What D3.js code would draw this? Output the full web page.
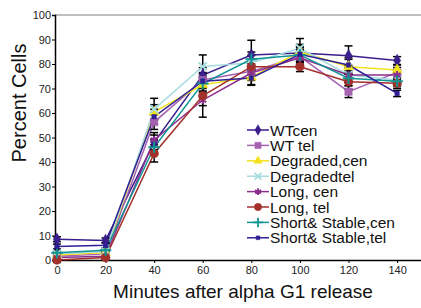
<!DOCTYPE html>
<html>
<head>
<meta charset="utf-8">
<script src="https://cdn.jsdelivr.net/npm/d3@7"></script>
<style>
  body { margin: 0; background: #fff; }
  text { font-family: "Liberation Sans", Arial, sans-serif; }
</style>
</head>
<body>
<script>
// minutes after release
const minutes = [0, 20, 40, 60, 80, 100, 120, 140];
const xTicks = [0, 20, 40, 60, 80, 100, 120, 140];
const yTicks = [0, 10, 20, 30, 40, 50, 60, 70, 80, 90, 100];

const seriesNames = ["WTcen", "WT tel", "Degraded,cen", "Degradedtel", "Long, cen", "Long, tel", "Short& Stable,cen", "Short& Stable,tel"];

const wtCen     = [8.5, 8, 48, 75.5, 83.7, 84.5, 83.4, 81.4];
const wtTel     = [1.5, 2.5, 56.3, 73.5, 77, 83, 68.7, 76.6];
const degCen    = [2, 3, 60.4, 71.5, 74.6, 85, 78.9, 77.6];
const degTel    = [2.5, 3.5, 61.6, 79, 80.5, 86.4, 75.5, 73.5];
const longCen   = [1, 1.5, 49, 65.3, 76.3, 82.5, 75.5, 75.5];
const longTel   = [0, 1, 43.5, 67, 78.9, 78.9, 72.8, 72.1];
const shortCen  = [3, 4, 46, 72, 81.9, 83.7, 74.2, 73];
const shortTel  = [5.5, 6, 58.5, 73, 74.3, 84, 79.6, 68];

// error bar half-widths
const wtCenErr    = [1, 1, 3, 3, 6, 3, 4, 1.6];
const wtTelErr    = [1, 1, 3, 3, 3, 3, 2.4, 2];
const degCenErr   = [1, 1, 3, 3, 3, 3, 3, 2];
const degTelErr   = [1, 1, 4.4, 4.7, 3, 4, 3, 2];
const longCenErr  = [1, 1, 3, 7, 3, 3, 3, 2];
const longTelErr  = [1, 1, 3.5, 4, 3, 2, 3, 2];
const shortCenErr = [1, 1, 3, 3, 3, 3, 3, 2];
const shortTelErr = [1, 1, 3, 3, 3, 3, 3, 1.3];

const colors = ["#3a1e8c", "#a462b0", "#f2e21e", "#a6dbe0", "#8b2f8f", "#a3302a", "#0f9494", "#2e1f96"];
const symbols = [d3.symbolDiamond, d3.symbolSquare, d3.symbolTriangle, d3.symbolX, d3.symbolAsterisk, d3.symbolCircle, d3.symbolPlus, d3.symbolSquare];
const symbolSizes = [45, 55, 45, 45, 45, 60, 45, 20];

const values = [wtCen, wtTel, degCen, degTel, longCen, longTel, shortCen, shortTel];
const errors = [wtCenErr, wtTelErr, degCenErr, degTelErr, longCenErr, longTelErr, shortCenErr, shortTelErr];

const series = seriesNames.map((name, i) => ({
  name: name,
  color: colors[i],
  symbol: symbols[i],
  size: symbolSizes[i],
  points: minutes.map((m, j) => ({ m: m, v: values[i][j], e: errors[i][j] }))
}));

const width = 421, height = 308;

const svg = d3.select("body").append("svg")
  .attr("width", width)
  .attr("height", height);

const x = d3.scaleLinear().domain([-0.8, 150]).range([55, 421.4]);
const y = d3.scaleLinear().domain([0, 100]).range([260, 15]);

// top frame line
svg.append("line")
  .attr("x1", 55).attr("x2", width)
  .attr("y1", y(100)).attr("y2", y(100))
  .attr("stroke", "#aaa")
  .attr("stroke-width", 1.5);

// axes
const yAxis = svg.append("g")
  .attr("transform", "translate(55,0)")
  .call(d3.axisLeft(y).tickValues(yTicks).tickSize(3).tickPadding(1));

const xAxis = svg.append("g")
  .attr("transform", "translate(0,260)")
  .call(d3.axisBottom(x).tickValues(xTicks).tickSize(3).tickPadding(3));

[yAxis, xAxis].forEach(a => {
  a.select(".domain").attr("stroke", "#000").attr("stroke-width", 1.5);
  a.selectAll(".tick line").attr("stroke", "#000");
  a.selectAll(".tick text")
    .attr("fill", "#222")
    .style("font-size", "11px")
    .style("font-family", "'Liberation Sans', Arial, sans-serif");
});

// axis titles
svg.append("text")
  .attr("x", 243)
  .attr("y", 298)
  .attr("text-anchor", "middle")
  .attr("font-size", "19px")
  .attr("fill", "#111")
  .text("Minutes after alpha G1 release");

svg.append("text")
  .attr("transform", "translate(26,103) rotate(-90)")
  .attr("text-anchor", "middle")
  .attr("font-size", "20px")
  .attr("fill", "#111")
  .text("Percent Cells");

const line = d3.line().x(d => x(d.m)).y(d => y(d.v));

// lines
series.forEach(s => {
  svg.append("path")
    .datum(s.points)
    .attr("fill", "none")
    .attr("stroke", s.color)
    .attr("stroke-width", 1.5)
    .attr("d", line);
});

// error bars
series.forEach(s => {
  const g = svg.append("g").attr("stroke", "#000").attr("stroke-width", 1.5);
  g.selectAll("line.bar").data(s.points).join("line")
    .attr("x1", d => x(d.m)).attr("x2", d => x(d.m))
    .attr("y1", d => y(d.v - d.e)).attr("y2", d => y(d.v + d.e));
  g.selectAll("line.top").data(s.points).join("line")
    .attr("x1", d => x(d.m) - 4).attr("x2", d => x(d.m) + 4)
    .attr("y1", d => y(d.v + d.e)).attr("y2", d => y(d.v + d.e));
  g.selectAll("line.bot").data(s.points).join("line")
    .attr("x1", d => x(d.m) - 4).attr("x2", d => x(d.m) + 4)
    .attr("y1", d => y(d.v - d.e)).attr("y2", d => y(d.v - d.e));
});

const isOpen = sym => sym === d3.symbolX || sym === d3.symbolAsterisk || sym === d3.symbolPlus;

// markers
series.forEach(s => {
  const open = isOpen(s.symbol);
  svg.append("g").selectAll("path").data(s.points).join("path")
    .attr("transform", d => `translate(${x(d.m)},${y(d.v)})`)
    .attr("d", d3.symbol().type(s.symbol).size(s.size))
    .attr("fill", open ? "none" : s.color)
    .attr("stroke", s.color)
    .attr("stroke-width", open ? 2 : 0.5);
});

// legend
const legend = svg.append("g").attr("transform", "translate(247,130)");
series.forEach((s, i) => {
  const row = legend.append("g").attr("transform", `translate(0,${i * 15.4})`);
  row.append("line")
    .attr("x1", 0).attr("x2", 22)
    .attr("stroke", s.color).attr("stroke-width", 1.5);
  const open = isOpen(s.symbol);
  row.append("path")
    .attr("transform", "translate(11,0)")
    .attr("d", d3.symbol().type(s.symbol).size(s.size * 0.7))
    .attr("fill", open ? "none" : s.color)
    .attr("stroke", s.color)
    .attr("stroke-width", open ? 1.8 : 0.5);
  row.append("text")
    .attr("x", 23)
    .attr("y", 5.5)
    .attr("font-size", "15.5px")
    .attr("fill", "#111")
    .text(s.name);
});
</script>
</body>
</html>
